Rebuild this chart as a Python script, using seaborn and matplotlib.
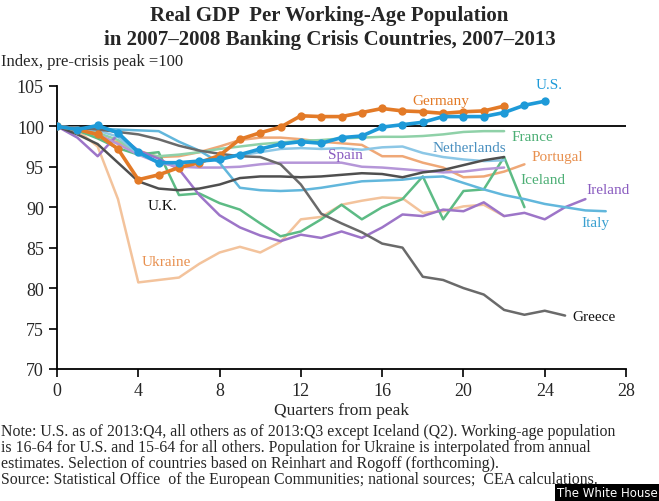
import matplotlib
matplotlib.use("Agg")
import matplotlib.pyplot as plt
import seaborn as sns
import pandas as pd

# values (index, pre-crisis peak = 100), quarter 0 = peak
us = [100, 99.6, 100.1, 99.2, 96.8, 95.5, 95.5, 95.7, 95.9, 96.5, 97.2, 97.8, 98.1,
      97.9, 98.6, 98.8, 99.9, 100.2, 100.5, 101.2, 101.2, 101.2, 101.7, 102.6, 103.1]
germany = [100, 99.6, 99.0, 97.2, 93.4, 94.0, 94.9, 95.5, 96.4, 98.4, 99.2, 99.9,
           101.3, 101.2, 101.2, 101.7, 102.2, 101.9, 101.8, 101.6, 101.8, 101.9, 102.5]
france = [100, 99.7, 99.2, 98.3, 96.6, 96.3, 96.5, 96.8, 97.2, 97.5, 97.8, 98.0,
          98.2, 98.3, 98.5, 98.6, 98.7, 98.7, 98.8, 99.0, 99.3, 99.4, 99.4]
netherlands = [100, 99.8, 99.5, 98.7, 96.6, 95.6, 95.4, 95.6, 96.0, 96.4, 96.8, 97.2,
               97.3, 97.2, 97.3, 97.1, 97.4, 97.5, 96.7, 96.2, 95.9, 95.7, 95.8]
portugal = [100, 99.5, 98.8, 98.0, 97.0, 96.2, 96.3, 96.8, 97.5, 98.3, 98.6, 98.6,
            98.4, 98.1, 97.9, 97.7, 96.3, 96.3, 95.5, 94.9, 93.7, 93.8, 94.4, 95.3]
spain = [100, 99.8, 99.0, 97.8, 96.5, 95.5, 95.0, 94.9, 94.9, 95.0, 95.3, 95.5,
         95.5, 95.5, 95.5, 95.0, 94.9, 94.7, 94.5, 94.3, 94.4, 94.7, 94.9]
uk = [100, 99.0, 97.8, 95.5, 93.2, 92.3, 92.1, 92.3, 92.8, 93.6, 93.8, 93.8,
      93.7, 93.8, 94.0, 94.2, 94.1, 93.7, 94.3, 94.6, 95.2, 95.8, 96.2]
iceland = [100, 99.5, 98.5, 97.3, 96.5, 96.8, 91.5, 91.7, 90.5, 89.7, 88.0, 86.4,
           87.0, 88.5, 90.3, 88.5, 90.0, 91.0, 93.8, 88.5, 92.0, 92.2, 96.2, 90.0]
ireland = [100, 98.6, 96.3, 99.0, 97.0, 96.0, 94.7, 91.5, 89.0, 87.5, 86.5, 85.8,
           86.6, 86.2, 87.0, 86.2, 87.5, 89.1, 88.9, 89.7, 89.5, 90.6, 88.9, 89.3,
           88.5, 90.0, 91.0]
italy = [100, 99.8, 99.7, 99.6, 99.5, 99.4, 98.1, 97.0, 95.5, 92.4, 92.1, 92.0,
         92.1, 92.4, 92.8, 93.2, 93.3, 93.4, 93.7, 93.8, 93.0, 92.2, 91.5, 91.0,
         90.4, 90.0, 89.6, 89.5]
ukraine = [100, 99.5, 97.5, 91.0, 80.7, 81.0, 81.3, 83.0, 84.4, 85.1, 84.4, 85.7,
           88.5, 88.8, 90.3, 90.8, 91.2, 91.1, 89.3, 89.5, 90.1, 90.3, 88.9]
greece = [100, 99.8, 99.6, 99.3, 99.0, 98.4, 97.6, 97.0, 96.6, 96.3, 96.2, 95.3,
          92.8, 89.2, 88.0, 86.9, 85.5, 85.0, 81.4, 81.0, 80.0, 79.2, 77.3, 76.7,
          77.2, 76.6]

x_ticks = [0, 4, 8, 12, 16, 20, 24, 28]
y_ticks = [70, 75, 80, 85, 90, 95, 100, 105]

series = [
    ("Ukraine", ukraine, "#f3c39c", None),
    ("Portugal", portugal, "#efa877", None),
    ("Iceland", iceland, "#5dbb85", None),
    ("France", france, "#8fd1a8", None),
    ("Ireland", ireland, "#9d75c8", None),
    ("Spain", spain, "#b596d8", None),
    ("Italy", italy, "#62b7dc", None),
    ("Netherlands", netherlands, "#8cc7e6", None),
    ("Greece", greece, "#6a6a6a", None),
    ("U.K.", uk, "#4f4f4f", None),
    ("Germany", germany, "#e37a27", "o"),
    ("U.S.", us, "#1e9ad8", "o"),
]

# label positions / colours for the in-chart text
labels = [
    ("U.S.", 24.2, 105.2, "#1e9ad8"),
    ("Germany", 18.9, 103.2, "#e37a27"),
    ("France", 23.4, 98.8, "#4caf75"),
    ("Netherlands", 20.3, 97.4, "#4a90c0"),
    ("Portugal", 24.6, 96.3, "#e8904f"),
    ("Spain", 14.2, 96.5, "#8a5cc0"),
    ("Iceland", 23.9, 93.4, "#4caf75"),
    ("Ireland", 27.1, 92.2, "#8a5cc0"),
    ("Italy", 26.5, 88.1, "#3aa0d0"),
    ("U.K.", 5.2, 90.2, "#111111"),
    ("Ukraine", 5.4, 83.3, "#e8904f"),
    ("Greece", 26.4, 76.5, "#111111"),
]

sns.set_style("white")
plt.rcParams["font.family"] = ["Liberation Serif", "DejaVu Serif"]

fig = plt.figure(figsize=(6.59, 5.02), dpi=100)
ax = fig.add_axes([0.0865, 0.263, 0.8635, 0.564])

ax.axhline(100, xmin=0, xmax=1, color="black", lw=1.3, zorder=1)

for name, vals, col, mk in series:
    df = pd.DataFrame({"q": range(len(vals)), "v": vals})
    if mk:
        sns.lineplot(data=df, x="q", y="v", color=col, lw=2.6, marker=mk,
                     markersize=6, markeredgewidth=0, ax=ax, zorder=5)
    else:
        sns.lineplot(data=df, x="q", y="v", color=col, lw=1.8, ax=ax, zorder=3)

for name, lx, ly, col in labels:
    ax.text(lx, ly, name, color=col, fontsize=11, ha="center", va="center",
            clip_on=False)

ax.set_xlim(0, 28)
ax.set_ylim(70, 105)
ax.set_xticks(x_ticks)
ax.set_yticks(y_ticks)
ax.tick_params(axis="both", direction="out", length=6, width=1.2, labelsize=13,
               left=True, bottom=True, color="black")
for s in ["top", "right"]:
    ax.spines[s].set_visible(False)
for s in ["left", "bottom"]:
    ax.spines[s].set_color("black")
    ax.spines[s].set_linewidth(1.3)
ax.set_xlabel("Quarters from peak", fontsize=12.5, labelpad=2)
ax.set_ylabel("")

fig.text(0.5, 0.968, "Real GDP  Per Working-Age Population", ha="center",
         va="center", fontsize=15, fontweight="bold")
fig.text(0.5, 0.92, "in 2007\u20132008 Banking Crisis Countries, 2007\u20132013",
         ha="center", va="center", fontsize=15, fontweight="bold")
fig.text(0.002, 0.876, "Index, pre-crisis peak =100", ha="left", va="center",
         fontsize=12)

note = ("Note: U.S. as of 2013:Q4, all others as of 2013:Q3 except Iceland (Q2). "
        "Working-age population\n"
        "is 16-64 for U.S. and 15-64 for all others. Population for Ukraine is "
        "interpolated from annual\n"
        "estimates. Selection of countries based on Reinhart and Rogoff (forthcoming).\n"
        "Source: Statistical Office  of the European Communities; national sources;  "
        "CEA calculations.")
fig.text(0.002, 0.156, note, ha="left", va="top", fontsize=11.4,
         linespacing=1.0)

fig.text(0.998, 0.004, "The White House", ha="right", va="bottom", fontsize=8.5,
         color="white", family="DejaVu Sans",
         bbox=dict(facecolor="black", edgecolor="none", pad=1.5))

fig.savefig("out.png", dpi=100)
